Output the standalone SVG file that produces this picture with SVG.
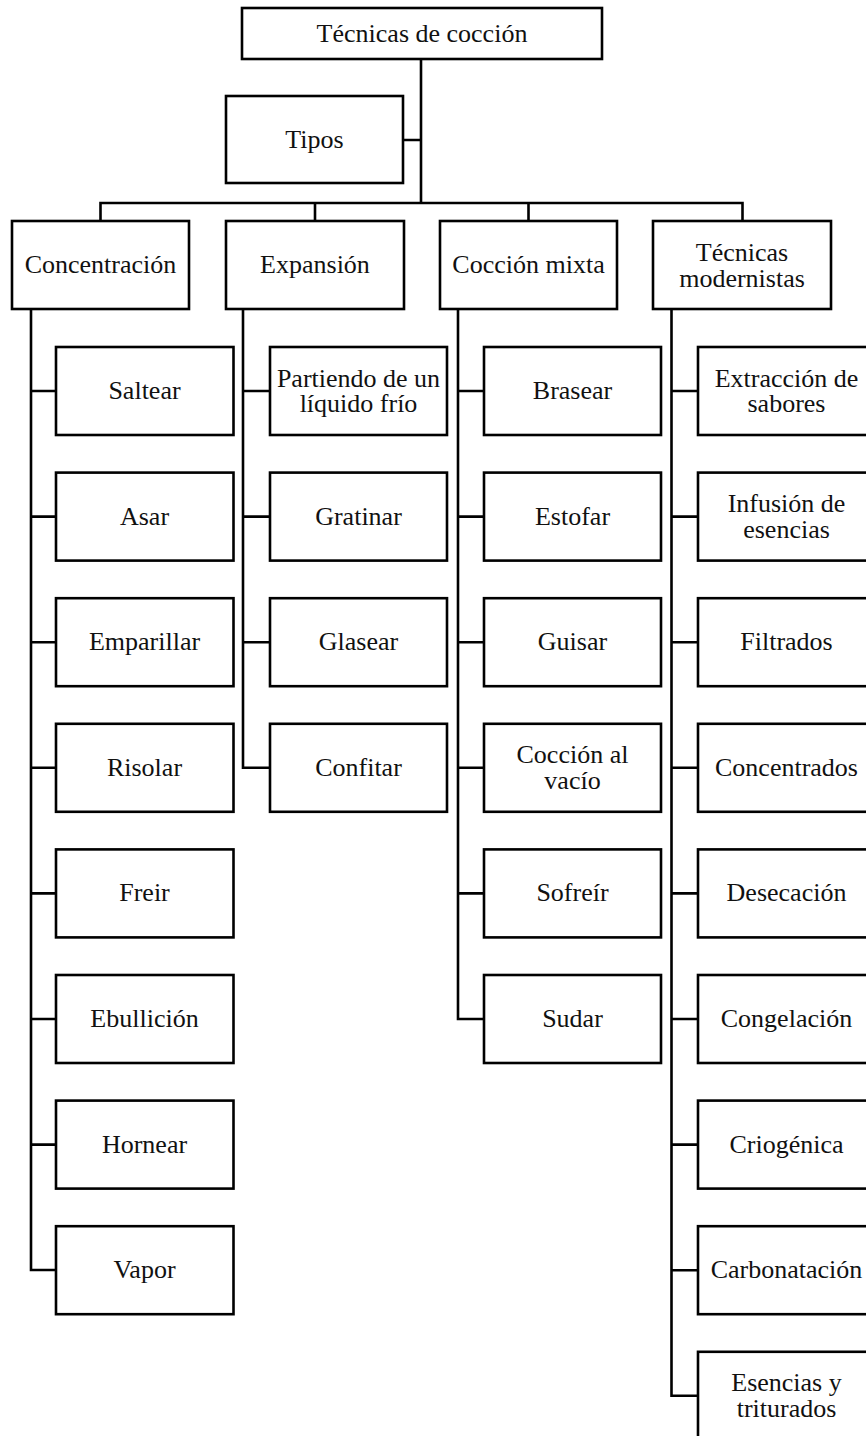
<svg xmlns="http://www.w3.org/2000/svg" width="866" height="1436" viewBox="0 0 866 1436">
<style>
rect{fill:#fff;stroke:#000;stroke-width:2.6}
.c{fill:none;stroke:#000;stroke-width:2.6}
text{font-family:"Liberation Serif","Times New Roman",serif;font-size:26px;fill:#111;text-anchor:middle}
</style>
<rect x="0" y="0" width="866" height="1436" style="stroke:none"/>
<g id="connectors" class="c">
<path d="M421 59V203M403 140H421M100.5 221V203H742.5V221M315 203V221M528.5 203V221"/>
<path d="M31 309V1270H56M31 391H56M31 516.6H56M31 642.2H56M31 767.8H56M31 893.4H56M31 1019H56M31 1144.6H56"/>
<path d="M243 309V767.8H270M243 391H270M243 516.6H270M243 642.2H270"/>
<path d="M458 309V1019H484M458 391H484M458 516.6H484M458 642.2H484M458 767.8H484M458 893.4H484"/>
<path d="M671.5 309V1395.8H698M671.5 391H698M671.5 516.6H698M671.5 642.2H698M671.5 767.8H698M671.5 893.4H698M671.5 1019H698M671.5 1144.6H698M671.5 1270.2H698"/>
</g>
<g id="root"><rect x="242" y="8" width="360" height="51"/><text x="422" y="42">Técnicas de cocción</text></g>
<g id="tipos"><rect x="226" y="96" width="177" height="87"/><text x="314.5" y="148">Tipos</text></g>
<g id="concentracion"><rect x="12" y="221" width="177" height="88"/><text x="100.5" y="273">Concentración</text></g>
<g id="expansion"><rect x="226" y="221" width="178" height="88"/><text x="315" y="273">Expansión</text></g>
<g id="coccion-mixta"><rect x="440" y="221" width="177" height="88"/><text x="528.5" y="273">Cocción mixta</text></g>
<g id="tecnicas-modernistas"><rect x="653" y="221" width="178" height="88"/><text x="742" y="261">Técnicas</text><text x="742" y="287">modernistas</text></g>

<g id="saltear"><rect x="56" y="347" width="177.5" height="88"/><text x="144.5" y="399">Saltear</text></g>
<g id="asar"><rect x="56" y="472.6" width="177.5" height="88"/><text x="144.5" y="524.6">Asar</text></g>
<g id="emparillar"><rect x="56" y="598.2" width="177.5" height="88"/><text x="144.5" y="650.2">Emparillar</text></g>
<g id="risolar"><rect x="56" y="723.8" width="177.5" height="88"/><text x="144.5" y="775.8">Risolar</text></g>
<g id="freir"><rect x="56" y="849.4" width="177.5" height="88"/><text x="144.5" y="901.4">Freir</text></g>
<g id="ebullicion"><rect x="56" y="975" width="177.5" height="88"/><text x="144.5" y="1027">Ebullición</text></g>
<g id="hornear"><rect x="56" y="1100.6" width="177.5" height="88"/><text x="144.5" y="1152.6">Hornear</text></g>
<g id="vapor"><rect x="56" y="1226.2" width="177.5" height="88"/><text x="144.5" y="1278.2">Vapor</text></g>

<g id="partiendo"><rect x="270" y="347" width="177" height="88"/><text x="358.5" y="386.5">Partiendo de un</text><text x="358.5" y="412">líquido frío</text></g>
<g id="gratinar"><rect x="270" y="472.6" width="177" height="88"/><text x="358.5" y="524.6">Gratinar</text></g>
<g id="glasear"><rect x="270" y="598.2" width="177" height="88"/><text x="358.5" y="650.2">Glasear</text></g>
<g id="confitar"><rect x="270" y="723.8" width="177" height="88"/><text x="358.5" y="775.8">Confitar</text></g>

<g id="brasear"><rect x="484" y="347" width="177" height="88"/><text x="572.5" y="399">Brasear</text></g>
<g id="estofar"><rect x="484" y="472.6" width="177" height="88"/><text x="572.5" y="524.6">Estofar</text></g>
<g id="guisar"><rect x="484" y="598.2" width="177" height="88"/><text x="572.5" y="650.2">Guisar</text></g>
<g id="coccion-vacio"><rect x="484" y="723.8" width="177" height="88"/><text x="572.5" y="763.3">Cocción al</text><text x="572.5" y="788.8">vacío</text></g>
<g id="sofreir"><rect x="484" y="849.4" width="177" height="88"/><text x="572.5" y="901.4">Sofreír</text></g>
<g id="sudar"><rect x="484" y="975" width="177" height="88"/><text x="572.5" y="1027">Sudar</text></g>

<g id="extraccion"><rect x="698" y="347" width="177" height="88"/><text x="786.5" y="386.5">Extracción de</text><text x="786.5" y="412">sabores</text></g>
<g id="infusion"><rect x="698" y="472.6" width="177" height="88"/><text x="786.5" y="512.1">Infusión de</text><text x="786.5" y="537.6">esencias</text></g>
<g id="filtrados"><rect x="698" y="598.2" width="177" height="88"/><text x="786.5" y="650.2">Filtrados</text></g>
<g id="concentrados"><rect x="698" y="723.8" width="177" height="88"/><text x="786.5" y="775.8">Concentrados</text></g>
<g id="desecacion"><rect x="698" y="849.4" width="177" height="88"/><text x="786.5" y="901.4">Desecación</text></g>
<g id="congelacion"><rect x="698" y="975" width="177" height="88"/><text x="786.5" y="1027">Congelación</text></g>
<g id="criogenica"><rect x="698" y="1100.6" width="177" height="88"/><text x="786.5" y="1152.6">Criogénica</text></g>
<g id="carbonatacion"><rect x="698" y="1226.2" width="177" height="88"/><text x="786.5" y="1278.2">Carbonatación</text></g>
<g id="esencias"><rect x="698" y="1351.8" width="177" height="88"/><text x="786.5" y="1391.3">Esencias y</text><text x="786.5" y="1416.8">triturados</text></g>
</svg>
